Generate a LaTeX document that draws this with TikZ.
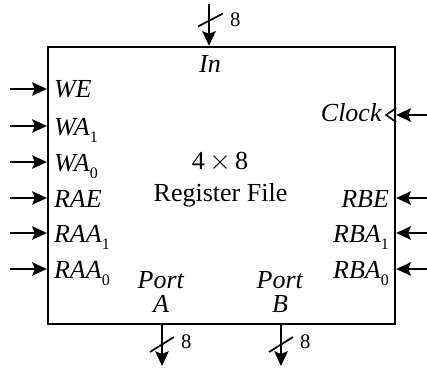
\documentclass[tikz,border=0pt]{standalone}
\usepackage{fontspec}
\setmainfont{Liberation Serif}
\usetikzlibrary{arrows.meta,calc}
\newcommand{\sigsub}[2]{\textit{#1}\raisebox{-5.5pt}{\fontsize{12}{12}\selectfont #2}}
\begin{document}
\begin{tikzpicture}[x=0.75pt,y=-0.75pt, line width=1.6pt,
  arr/.style={-{Stealth[length=11pt,width=10pt,inset=2pt]}},
  lbl/.style={inner sep=0pt, font=\fontsize{19.5}{22}\selectfont},
  lin/.style={lbl, anchor=base west},
  rin/.style={lbl, anchor=base east},
  slash/.style={line width=1.3pt},
  wl/.style={lbl, anchor=west, font=\fontsize{15.5}{16}\selectfont}]
\useasboundingbox (0,0) rectangle (427,367);
\node[draw, line width=1.7pt, inner sep=0pt, minimum width=260.25pt, minimum height=207.75pt] (rf) at (221.5,185.5) {};
% center text
\node[lbl, anchor=base] (t1) at (220,169) {4\,$\times$\,8};
\node[lbl, anchor=base] (t2) at (220.5,201) {Register File};
% top input
\coordinate (inS) at (209,4);
\draw[arr] (inS) -- (rf.north -| inS);
\coordinate (inC) at (210,20);
\draw[slash] ($(inC)+(-12,6.5)$) -- ($(inC)+(13,-6.5)$);
\node[wl] (n8a) at (229,20) {8};
\node[lbl, anchor=base] (lIn) at (210,73) {\textit{In}};
% left inputs
\foreach \nm/\y/\txt in {we/89/{\textit{WE}}, wa1/126/{\sigsub{WA}{1}}, wa0/162/{\sigsub{WA}{0}},
  rae/198/{\textit{RAE}}, raa1/233/{\sigsub{RAA}{1}}, raa0/269/{\sigsub{RAA}{0}}}{
  \coordinate (s\nm) at (10,\y);
  \draw[arr] (s\nm) -- (rf.west |- s\nm);
  \node[lin] (l\nm) at (53,\y+9) {\txt};
}
% right inputs
\foreach \nm/\y/\txt in {rbe/198/{\textit{RBE}}, rba1/233/{\sigsub{RBA}{1}}, rba0/269/{\sigsub{RBA}{0}}}{
  \coordinate (s\nm) at (427,\y);
  \draw[arr] (s\nm) -- (rf.east |- s\nm);
  \node[rin] (l\nm) at (390,\y+9) {\txt};
}
% clock
\coordinate (sclk) at (427,115);
\draw[arr] (sclk) -- (rf.east |- sclk);
\draw[line width=1.2pt] ($(rf.east |- sclk)+(0,-7)$) -- ($(rf.east |- sclk)+(-10,0)$) -- ($(rf.east |- sclk)+(0,7)$);
\node[rin] (lclk) at (383,122) {\textit{Clock}};
% ports
\foreach \nm/\x/\l in {pa/162/A, pb/281/B}{
  \coordinate (e\nm) at (\x,366);
  \draw[arr] (rf.south -| e\nm) -- (e\nm);
  \draw[slash] (\x-12,352) -- (\x+12,337);
  \node[wl] (n8\nm) at (\x+18,342) {8};
  \node[lbl, anchor=base] (p\nm) at (\x-1,288) {\textit{Port}};
  \node[lbl, anchor=base] (q\nm) at (\x-1,312) {\textit{\l}};
}
\end{tikzpicture}
\end{document}
